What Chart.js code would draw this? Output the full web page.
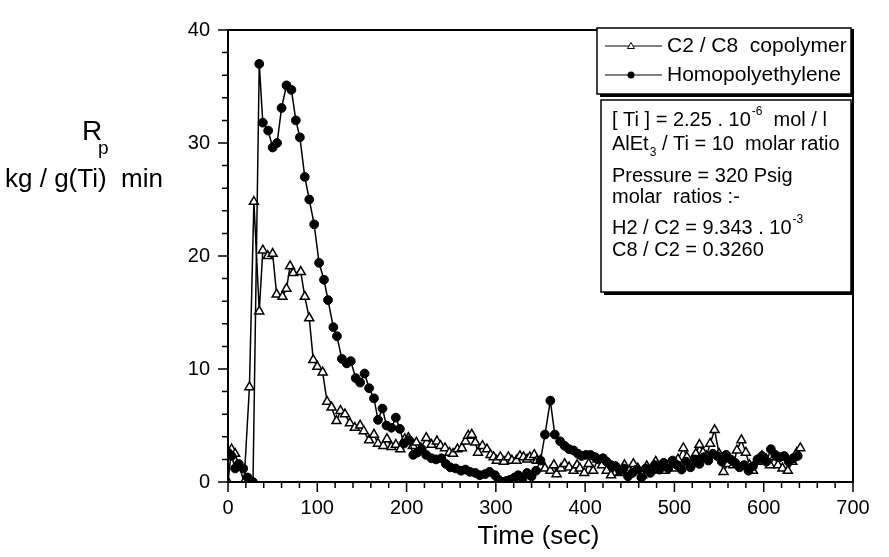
<!DOCTYPE html>
<html>
<head>
<meta charset="utf-8">
<script src="https://cdn.jsdelivr.net/npm/chart.js@4.4.1/dist/chart.umd.min.js"></script>
<style>
html,body{margin:0;padding:0;background:#fff;}
#wrap{width:889px;height:557px;}
</style>
</head>
<body>
<div id="wrap"><canvas id="c" width="889" height="557"></canvas></div>
<script>
// ---- data ----
const seriesNames = ["C2 / C8  copolymer", "Homopolyethylene"];

const copoTime = [0,4,8,13,18,24,29,35,39,44.5,50,54.5,61,65.5,69.5,73,81.5,86,91,95.5,100,106,111,116,121.5,126,131,136.5,142,148,152,158,163.5,168,174,178,183,188,193,198,202,207,211,216,222,228,234,238,243,248,252,257,262,266,269,273,277,280,285,290,294,297.5,301,305,309,314,318,323,327,331,335,338,343,346,350,355,361,365,368,373,377,382,387,391,394,399,404,409,414,419,424,429,434,439,444,449,454,459,464,469,474,479,484,489,494,499,504,510,514,519,524,528,532,536,540,545,550,555,560,566,570,575,580,584,588,593,598,603,607,612,616,621,627,632,637,641];
const copoRate = [0,2.9,2.5,1.3,0,8.4,24.8,15.1,20.5,20.0,20.2,16.6,16.4,17.1,19.1,18.5,18.6,16.4,14.5,10.8,10.2,9.7,7.1,6.6,5.4,6.3,6.0,5.2,4.8,5.0,4.5,3.7,4.2,3.4,3.2,3.8,3.1,3.3,2.9,3.8,3.9,3.2,3.5,3.0,3.9,3.3,3.6,3.2,3.0,2.6,2.5,2.9,3.0,3.6,4.1,4.2,3.5,2.6,3.2,2.9,2.4,2.2,1.9,2.2,1.8,2.2,1.9,1.9,2.3,2.2,2.0,2.2,2.4,1.9,1.9,1.2,1.0,1.5,0.7,1.2,1.6,1.3,1.0,1.5,1.2,0.8,1.6,1.0,2.0,1.5,1.0,0.6,1.3,0.8,1.5,1.0,1.6,1.2,0.6,1.4,1.0,1.8,1.3,1.0,1.6,1.2,2.0,3.0,2.2,1.6,2.5,3.3,2.6,2.3,3.4,4.6,2.5,0.9,1.6,1.5,2.8,3.7,2.6,1.5,1.0,1.8,2.3,2.0,1.5,2.2,1.5,1.2,1.0,1.8,2.6,3.0];

const homoTime = [0,4,8,12,17,22,28,35,39,45,50,55,60,65.5,71,76,80.5,86,91,96.5,102,107.5,112,118,122,127.5,133,137.5,143,148,153,158,163.5,168,173,177.5,183,188,192.5,197,203,207.5,212,217,222,228,233,239,244,249,255,261,266,271,277,282,288,293,299,303,308,312,316,321,325,330,335,340,345,350,355,361,366,372,377,382,387,392,396,401,406,411,415,420,424,429,434,439,443,448,453,458,463,468,473,478,483,488,493,498,503,508,513,518,523,528,533,538,543,548,553,558,563,568,573,578,583,588,593,598,603,608,613,618,623,628,633,638];
const homoRate = [2.6,2.3,1.2,1.6,1.2,0.4,0,37.0,31.8,31.1,29.6,30.0,33.1,35.1,34.7,32.0,30.5,27.0,25.0,22.8,19.4,17.9,16.1,13.7,12.9,10.9,10.5,10.7,9.2,8.8,9.6,8.3,7.4,5.5,6.5,5.0,4.8,5.7,4.7,3.4,3.7,2.4,2.6,2.9,2.4,2.1,2.0,2.1,1.6,1.3,1.2,1.0,1.1,0.9,0.8,0.6,0.7,0.9,0.6,0.2,0.0,0.1,0.2,0.4,0.6,0.3,0.8,0.5,1.0,1.9,4.2,7.2,4.2,3.6,3.2,2.9,2.8,2.5,2.3,2.4,2.4,2.2,2.0,2.1,1.8,1.5,1.4,1.0,1.2,0.5,0.8,1.1,0.4,1.2,0.8,1.5,1.1,1.7,1.2,1.9,1.5,1.1,1.8,1.3,2.0,1.6,2.2,1.9,2.5,2.3,1.8,2.4,2.0,1.7,1.3,1.5,1.0,1.4,2.0,2.3,1.8,2.9,2.4,2.2,2.3,1.8,2.1,2.3];

const xTickLabels = [0,100,200,300,400,500,600,700];
const yTickLabels = [0,10,20,30,40];
const xMinorStep = 20;
const yMinorStep = 2;

const infoLines = [
  [{t:"[ Ti ] = 2.25 . 10"},{t:"-6",sup:true},{t:"  mol / l"}],
  [{t:"AlEt"},{t:"3",sub:true},{t:" / Ti = 10  molar ratio"}],
  [{t:"Pressure = 320 Psig"}],
  [{t:"molar  ratios :-"}],
  [{t:"H2 / C2 = 9.343 . 10"},{t:"-3",sup:true}],
  [{t:"C8 / C2 = 0.3260"}]
];

// ---- drawing ----
const FONT = "'Liberation Sans', Arial, Helvetica, sans-serif";

function pts(t, v){ return t.map((x,i)=>({x:x, y:v[i]})); }

function drawRich(ctx, x, y, segs, size){
  let cx = x;
  segs.forEach(s=>{
    if (s.sup || s.sub){
      ctx.font = Math.round(size*0.62)+"px "+FONT;
      const dy = s.sup ? -size*0.42 : size*0.45;
      ctx.fillText(s.t, cx+1, y+dy);
      cx += ctx.measureText(s.t).width + 1;
    } else {
      ctx.font = size+"px "+FONT;
      ctx.fillText(s.t, cx, y);
      cx += ctx.measureText(s.t).width;
    }
  });
}

function triangle(ctx, x, y, r, fill){
  ctx.save();
  ctx.beginPath();
  ctx.moveTo(x, y - r);
  ctx.lineTo(x + r*0.866, y + r*0.5);
  ctx.lineTo(x - r*0.866, y + r*0.5);
  ctx.closePath();
  ctx.fillStyle = fill; ctx.fill();
  ctx.stroke();
  ctx.restore();
}

const decor = {
  id:'decor',
  afterDraw(chart){
    const ctx = chart.ctx;
    const a = chart.chartArea;
    const xs = chart.scales.x, ys = chart.scales.y;
    ctx.save();
    ctx.strokeStyle = '#000';
    ctx.fillStyle = '#000';
    // frame
    ctx.lineWidth = 2;
    ctx.strokeRect(a.left, a.top, a.right - a.left, a.bottom - a.top);
    // ticks (outward)
    ctx.lineWidth = 1.5;
    ctx.beginPath();
    for (let v = xs.min; v <= xs.max + 1e-9; v += xMinorStep){
      const px = xs.getPixelForValue(v);
      const len = (v % 100 === 0) ? 10 : 6;
      ctx.moveTo(px, a.bottom); ctx.lineTo(px, a.bottom + len);
    }
    for (let v = ys.min; v <= ys.max + 1e-9; v += yMinorStep){
      const py = ys.getPixelForValue(v);
      const len = (v % 10 === 0) ? 10 : 6;
      ctx.moveTo(a.left, py); ctx.lineTo(a.left - len, py);
    }
    ctx.stroke();

    // axis titles
    ctx.textBaseline = 'middle';
    ctx.textAlign = 'left';
    ctx.font = "28px " + FONT;
    ctx.fillText("R", 82, 132);
    ctx.font = "19px " + FONT;
    ctx.fillText("p", 98, 149);
    ctx.font = "26px " + FONT;
    ctx.fillText("kg / g(Ti)  min", 5, 180);
    ctx.textAlign = 'center';
    ctx.font = "26px " + FONT;
    ctx.fillText("Time (sec)", (a.left + a.right)/2 - 2, 537);

    // legend box
    const lx = 597, ly = 28, lw = 254, lh = 66;
    ctx.fillStyle = '#000';
    ctx.fillRect(lx + 3, ly + lh, lw, 3);
    ctx.fillRect(lx + lw, ly + 3, 3, lh);
    ctx.fillStyle = '#fff';
    ctx.fillRect(lx, ly, lw, lh);
    ctx.fillStyle = '#000';
    ctx.lineWidth = 1.5;
    ctx.strokeRect(lx, ly, lw, lh);
    ctx.lineWidth = 1;
    ctx.beginPath();
    ctx.moveTo(605, 46); ctx.lineTo(662, 46);
    ctx.moveTo(605, 75); ctx.lineTo(662, 75);
    ctx.stroke();
    triangle(ctx, 631, 46.5, 4, '#fff');
    ctx.fillStyle = '#000';
    ctx.beginPath(); ctx.arc(631, 75, 3.5, 0, Math.PI*2); ctx.fill();
    ctx.textAlign = 'left';
    ctx.font = "21px " + FONT;
    ctx.fillText(seriesNames[0], 667, 46);
    ctx.fillText(seriesNames[1], 667, 75);

    // info box
    const bx = 601, by = 100, bw = 250, bh = 192;
    ctx.fillStyle = '#000';
    ctx.fillRect(bx + 3, by + bh, bw, 3);
    ctx.fillRect(bx + bw, by + 3, 3, bh);
    ctx.fillStyle = '#fff';
    ctx.fillRect(bx, by, bw, bh);
    ctx.fillStyle = '#000';
    ctx.lineWidth = 1.5;
    ctx.strokeRect(bx, by, bw, bh);
    const lineY = [120, 144, 176, 197, 228, 250];
    infoLines.forEach((segs, i)=> drawRich(ctx, 612, lineY[i], segs, 20));
    ctx.restore();
  }
};

new Chart(document.getElementById('c'), {
  type: 'scatter',
  data: {
    datasets: [
      {
        label: seriesNames[1],
        data: pts(homoTime, homoRate),
        showLine: true,
        borderColor: '#000',
        borderWidth: 1.5,
        pointStyle: 'circle',
        pointRadius: 4.4,
        pointBackgroundColor: '#000',
        pointBorderColor: '#000',
        pointBorderWidth: 1
      },
      {
        label: seriesNames[0],
        data: pts(copoTime, copoRate),
        showLine: true,
        borderColor: '#000',
        borderWidth: 1.5,
        pointStyle: 'triangle',
        pointRadius: 5.2,
        pointBackgroundColor: '#fff',
        pointBorderColor: '#000',
        pointBorderWidth: 1.5
      }
    ]
  },
  options: {
    responsive: false,
    animation: false,
    layout: { padding: { top: 20, right: 36, left: 0, bottom: 0 } },
    plugins: { legend: { display: false }, tooltip: { enabled: false } },
    scales: {
      x: {
        type: 'linear', min: 0, max: 700,
        afterBuildTicks(s){ s.ticks = xTickLabels.map(v => ({ value: v })); },
        afterFit(s){ s.height = 75; },
        grid: { display: false, drawTicks: false },
        border: { display: false },
        ticks: { color: '#000', font: { family: FONT, size: 20 }, padding: 14, maxRotation: 0, autoSkip: false }
      },
      y: {
        type: 'linear', min: 0, max: 40,
        afterBuildTicks(s){ s.ticks = yTickLabels.map(v => ({ value: v })); },
        afterFit(s){ s.width = 228; },
        grid: { display: false, drawTicks: false },
        border: { display: false },
        ticks: { color: '#000', font: { family: FONT, size: 20 }, padding: 18, autoSkip: false }
      }
    }
  },
  plugins: [decor]
});
</script>
</body>
</html>
